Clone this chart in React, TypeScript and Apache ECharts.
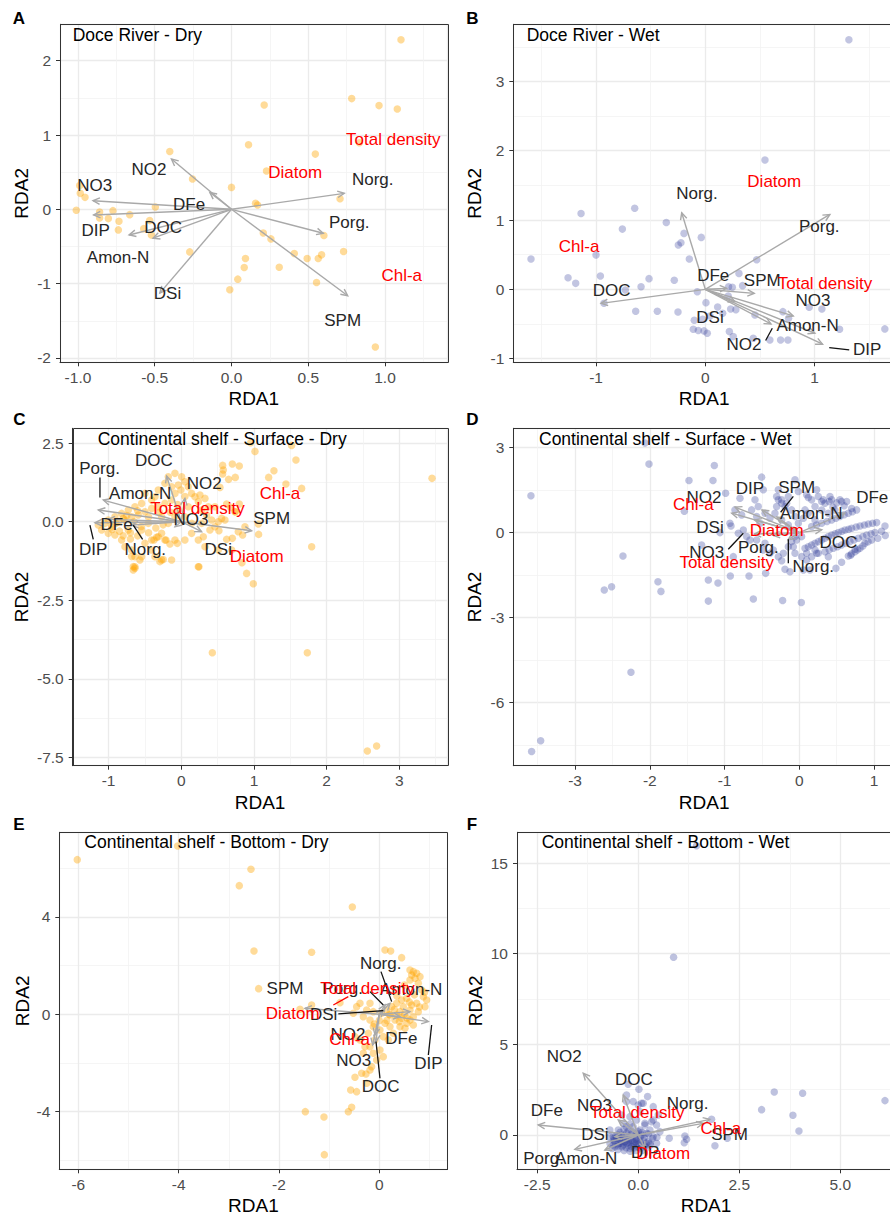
import React, { useEffect, useRef } from 'react';
import * as echarts from 'echarts';

type P = [number, number];
type Arrow = [string, number, number];
type Lab = [string, number, number, number];
type Seg = [number, number, number, number, number];

// ---------------- Panel A : Doce River - Dry ----------------
const A_POINTS: P[] = [
  [1.104, 2.282], [0.783, 1.49], [0.961, 1.396], [1.08, 1.351], [0.213, 1.405], [0.111, 0.868], [0.546, 0.743],
  [0.833, 0.895], [-0.402, 0.779], [-0.254, 0.407], [0.228, 0.515], [0.0, 0.295], [-0.989, 0.322], [-0.985, 0.215],
  [-0.954, 0.161], [-1.011, -0.013], [-0.496, 0.031], [-0.859, -0.036], [-0.772, -0.018], [-0.859, -0.116],
  [-0.802, -0.125], [-0.733, -0.161], [-0.663, -0.072], [-0.737, -0.277], [-0.572, -0.26], [-0.533, -0.152],
  [-0.522, -0.345], [-0.272, -0.573], [0.157, 0.081], [0.17, 0.058], [0.707, 0.143], [0.207, -0.318],
  [0.257, -0.398], [0.602, -0.353], [0.409, -0.595], [0.493, -0.662], [0.565, -0.662], [0.587, -0.613],
  [0.73, -0.568], [0.091, -0.662], [0.083, -0.783], [0.041, -0.94], [-0.011, -1.083], [0.311, -0.779],
  [0.554, -0.984], [0.937, -1.852],
];
const A_ARROWS: Arrow[] = [
  ['NO2', -0.391, 0.676], ['NO3', -0.902, 0.116], ['DIP', -0.898, -0.076], ['DFe', -0.141, 0.228],
  ['DOC', -0.511, -0.389], ['Amon-N', -0.667, -0.345], ['DSi', -0.467, -1.128], ['Norg.', 0.735, 0.215],
  ['Porg.', 0.598, -0.322], ['SPM', 0.757, -1.163],
];
const A_LABELS: Lab[] = [
  ['NO2', -0.537, 0.537, 0], ['NO3', -0.891, 0.322, 0], ['DFe', -0.276, 0.067, 0], ['DIP', -0.885, -0.286, 0],
  ['DOC', -0.446, -0.246, 0], ['Amon-N', -0.739, -0.644, 0], ['DSi', -0.417, -1.128, 0], ['Norg.', 0.92, 0.403, 0],
  ['Porg.', 0.767, -0.179, 0], ['SPM', 0.724, -1.499, 0],
  ['Total density', 1.054, 0.94, 1], ['Diatom', 0.415, 0.497, 1], ['Chl-a', 1.109, -0.886, 1],
];
const A_SEGMENTS: Seg[] = [];

// ---------------- Panel B : Doce River - Wet ----------------
const B_POINTS: P[] = [
  [1.314, 3.6], [0.546, 1.867], [-1.137, 1.095], [-0.646, 1.171], [-0.759, 0.869], [-0.357, 0.965], [-0.195, 0.807],
  [-0.223, 0.672], [-0.247, 0.639], [-0.037, 0.749], [-0.146, 0.437], [0.47, 0.427], [-1.595, 0.437], [-1.0, 0.494],
  [-0.96, 0.192], [-1.256, 0.168], [-1.186, 0.086], [-0.732, -0.01], [-0.588, 0.038], [-0.515, 0.154], [-0.284, 0.13],
  [-0.073, -0.034], [0.308, 0.23], [0.213, 0.038], [0.247, 0.029], [0.341, 0.053], [-0.927, -0.202], [-0.637, -0.317],
  [-0.439, -0.317], [-0.25, -0.326], [0.006, -0.192], [0.113, -0.254], [0.159, -0.346], [0.232, -0.283], [0.28, -0.293],
  [0.21, -0.096], [-0.101, -0.446], [-0.024, -0.432], [0.043, -0.384], [-0.11, -0.576], [-0.064, -0.595], [-0.012, -0.6],
  [0.018, -0.634], [0.22, -0.61], [0.256, -0.682], [0.439, -0.706], [0.591, -0.73], [0.689, -0.73], [0.756, -0.73],
  [0.71, -0.322], [0.762, -0.418], [0.454, -0.37], [0.951, -0.259], [1.067, -0.283], [1.229, -0.576], [1.643, -0.571],
];
const B_ARROWS: Arrow[] = [
  ['Norg.', -0.216, 1.104], ['Porg.', 1.14, 1.08], ['DOC', -0.954, -0.202], ['DFe', 0.195, 0.014],
  ['SPM', 0.448, -0.058], ['DSi', 0.271, -0.178], ['NO2', 0.601, -0.499], ['NO3', 0.805, -0.384],
  ['Amon-N', 1.003, -0.634], ['DIP', 1.073, -0.792],
];
const B_LABELS: Lab[] = [
  ['Norg.', -0.076, 1.383, 0], ['Porg.', 1.043, 0.903, 0], ['DFe', 0.073, 0.202, 0], ['SPM', 0.521, 0.134, 0],
  ['DOC', -0.857, -0.019, 0], ['NO3', 0.985, -0.163, 0], ['DSi', 0.043, -0.403, 0], ['Amon-N', 0.936, -0.523, 0],
  ['NO2', 0.354, -0.802, 0], ['DIP', 1.482, -0.874, 0],
  ['Diatom', 0.631, 1.551, 1], ['Chl-a', -1.155, 0.615, 1], ['Total density', 1.095, 0.086, 1],
];
const B_SEGMENTS: Seg[] = [
  [0.552, -0.739, 0.613, -0.562, 0], [1.134, -0.84, 1.317, -0.874, 0],
];

// ---------------- Panel C : Continental shelf - Surface - Dry ----------------
const C_POINTS: P[] = [
  [0.954, 2.513], [1.014, 2.237], [1.518, 2.428], [1.578, 1.962], [1.275, 1.622], [1.202, 1.41], [1.44, 1.198],
  [1.656, 1.06], [3.45, 1.379], [1.794, -0.795], [0.991, -1.972], [0.899, -1.644], [0.835, -1.304], [0.844, -0.424],
  [1.064, -0.403], [1.06, -0.074], [0.427, -4.168], [1.734, -4.168], [2.56, -7.296], [2.688, -7.137], [0.243, -1.432],
  [0.569, 1.792], [0.578, 1.644], [0.569, 1.516], [0.702, 1.835], [0.798, 1.771], [0.743, 1.41], [0.651, 1.347],
  [0.532, 1.092], [0.679, 0.456], [0.798, 0.562], [0.743, 0.318], [0.624, 0.562], [0.509, 0.0], [0.303, -0.477],
  [0.624, -0.562], [0.702, -0.53], [-0.133, -1.22], [-0.248, -1.2], [-0.294, -1.27], [-0.661, -1.43], [-0.638, -1.48],
  [-0.569, -1.22], [-0.683, -1.11], [-0.055, -0.689], [-0.211, -0.583], [-0.156, -0.71], [-0.339, -0.498],
  [-0.376, -0.583],
  [0.005, 1.432], [0.05, 1.273], [-0.041, 1.166], [0.096, 1.113], [-0.005, 1.007], [0.142, 0.901], [0.188, 0.795],
  [0.257, 0.848], [0.326, 0.742], [0.234, 0.636], [0.372, 0.477], [0.28, 0.371], [0.349, 0.212], [0.463, 0.477],
  [0.555, 0.106], [0.463, -0.159], [0.394, -0.265], [0.518, -0.286], [0.784, -0.318], [0.693, -0.901], [0.509, -0.901],
  [0.326, -0.795], [0.234, -0.583], [0.142, -0.371], [0.05, -0.583], [-0.087, -0.583], [-0.225, -0.583],
  [-0.317, -0.477], [-0.408, -0.583], [-0.5, -0.689], [-0.408, -0.901], [-0.362, -1.113], [-0.271, -1.22],
  [-0.546, -1.113], [-0.638, -1.113], [-0.683, -0.901], [-0.775, -0.795], [-0.821, -0.583], [-0.913, -0.424],
  [-1.005, -0.371], [-1.096, -0.265], [-1.142, -0.106], [-1.05, -0.053], [-0.959, -0.159], [-0.867, 0],
  [-0.775, 0.053], [-0.683, 0.159], [-0.592, 0.212], [-0.5, 0.318], [-0.408, 0.424], [-0.317, 0.477],
  [-0.225, 0.583], [-0.133, 0.689], [-0.087, 0.901], [-0.133, 1.113], [-0.225, 1.22], [-0.317, 1.007],
  [-0.362, 0.795], [-0.546, 0.583], [-0.638, 0.477], [-0.729, 0.371], [-0.821, 0.265], [-0.913, 0.159],
  [-1.005, 0.053], [-0.638, -1.432], [-0.661, -1.538], [0.234, -1.432], [-0.271, -0.371], [-0.179, -0.053],
  [-0.087, 0.159], [-0.271, 0.159], [-0.454, -0.053], [-0.546, -0.265], [-0.729, -0.265], [0.05, 0.159],
  [0.096, 0.477], [-0.041, 0.371], [0.142, -0.053], [0.28, -0.053], [0.417, 0.053], [0.601, 0.053], [0.739, 0.318],
  [0.876, -0.159], [-0.408, 0.689], [-0.5, 0.901], [-0.179, 1.432], [-0.087, 1.538],
  [-0.95, -0.25], [-0.85, -0.3], [-0.8, -0.45], [-0.7, -0.35], [-0.6, -0.45], [-0.9, -0.05], [-0.8, 0.1],
  [-0.65, 0.0], [-0.55, -0.15], [-0.45, -0.35], [-0.35, -0.2], [-0.25, -0.1], [-0.15, 0.3], [-0.05, 0.55],
  [0.05, 0.8], [-0.3, 0.3], [-0.45, 0.15], [-0.6, 0.35], [-0.75, 0.2], [-0.7, -0.55],
];
const C_ARROWS: Arrow[] = [
  ['DOC', -0.202, 1.453], ['NO2', 0.05, 0.742], ['Amon-N', -1.073, 0.689], ['Porg.', -1.142, 0.371],
  ['DFe', -1.005, 0.074], ['DIP', -1.188, -0.032], ['Norg.', -0.683, -0.106], ['NO3', -0.087, -0.159],
  ['DSi', 0.28, -0.318], ['SPM', 0.968, -0.286],
];
const C_LABELS: Lab[] = [
  ['DOC', -0.376, 1.962, 0], ['Porg.', -1.124, 1.68, 0], ['Amon-N', -0.565, 0.9, 0], ['NO2', 0.315, 1.23, 0],
  ['NO3', 0.133, 0.085, 0], ['DFe', -0.89, -0.085, 0], ['DIP', -1.211, -0.89, 0], ['Norg.', -0.495, -0.89, 0],
  ['DSi', 0.509, -0.875, 0], ['SPM', 1.243, 0.11, 0],
  ['Total density', 0.222, 0.424, 1], ['Chl-a', 1.358, 0.885, 1], ['Diatom', 1.037, -1.092, 1],
];
const C_SEGMENTS: Seg[] = [
  [-1.119, 1.41, -1.119, 0.774, 0], [-1.257, -0.106, -1.211, -0.562, 0], [-0.661, -0.106, -0.532, -0.562, 0],
];

// ---------------- Panel D : Continental shelf - Surface - Wet ----------------
const D_POINTS: P[] = [
  [-3.59, 1.3], [-2.065, 3.165], [-2.011, 2.421], [-2.359, -0.827], [-2.609, -2.031], [-2.511, -1.913],
  [-1.891, -1.736], [-1.851, -2.079], [-2.252, -4.937], [-3.46, -7.358], [-3.581, -7.736], [-1.476, 1.842],
  [-1.137, 2.374], [-1.155, 1.842], [-0.986, 1.394], [-1.538, 0.756], [-1.307, -0.437], [-1.061, 0], [-0.914, 0.236],
  [-1.217, -1.677], [-1.088, -1.783], [-1.217, -2.421], [-0.923, -1.535], [-0.673, -1.535], [-0.45, -1.441],
  [-0.615, -2.35], [-0.223, -2.398], [0.027, -2.468], [-0.504, 1.961], [-0.058, 1.866], [0.12, 1.24],
  [-0.236, -0.992], [-0.192, -1.299], [0.143, -1.323], [0.49, -1.264], [0.566, -1.051], [0.687, -0.803],
  [0.745, -0.591], [1.146, 0.236],
  [-0.482, 1.512], [-0.281, 1.157], [-0.236, 1.039], [-0.303, 0.921], [-0.169, 1.039], [-0.013, 1.453],
  [0.098, 1.335], [0.232, 1.512], [0.41, 1.276], [0.566, 1.098], [-0.794, 1.217], [-0.593, 1.157], [-0.526, 0.331],
  [-0.749, 0.094], [-0.571, 0.567], [-0.928, 0.331], [-0.66, -0.26], [-0.883, -0.85], [-0.482, -0.614],
  [-0.392, -0.732], [-0.214, -0.732], [-0.08, -0.496], [-0.036, -0.26], [0.031, -0.142], [0.098, -0.968],
  [-0.125, -1.382], [0.054, -1.323], [0.232, -0.732],
  [0.165, 0.213], [0.299, 0.331], [0.433, 0.449], [0.544, 0.567], [0.656, 0.685], [0.767, 0.803],
  [0.343, 1.039], [0.433, 1.157], [0.321, 1.157], [0.544, 1.157], [0.633, 1.098],
  [0.076, -0.555], [0.165, -0.437], [0.254, -0.319], [0.343, -0.201], [0.433, -0.083], [0.522, 0], [0.611, 0.094],
  [0.7, 0.154], [0.812, 0.236], [0.923, 0.307], [1.035, 0.354],
  [0.343, -0.673], [0.455, -0.555], [0.566, -0.437], [0.678, -0.319], [0.789, -0.201], [0.901, -0.083], [1.012, 0],
  [0.656, -0.827], [0.745, -0.673], [0.812, -0.555], [0.878, -0.378], [0.968, -0.26],
  [-0.281, 1.512], [-0.303, 1.276], [-0.236, 1.157], [-0.147, 1.276], [-0.192, 0.921], [-0.103, 0.803],
  [-0.058, 0.567], [-0.013, 0.331], [0.054, 0.508], [0.12, 0.685], [0.21, 0.921], [0.299, 1.098], [0.165, 1.157],
  [0.254, 1.276],
  [-0.861, 0.803], [-0.771, 0.626], [-0.638, 0.803], [-0.549, 0.921], [-0.459, 0.685], [-0.392, 0.508],
  [-0.326, 0.685], [-0.236, 0.449], [-0.147, 0.272], [-0.08, 0.094], [-0.058, -0.142], [-0.103, -0.319],
  [-0.147, -0.496], [-0.058, -0.732], [0.031, -0.85], [0.098, -0.732], [-0.816, -0.024], [-0.705, -0.142],
  [-0.571, -0.26], [-0.459, -0.378], [-0.348, -0.614], [-0.281, -0.85],
  [0.165, -0.85], [0.254, -0.732], [0.21, -0.614], [0.388, -0.85], [0.388, 0.685], [0.477, 0.803], [0.21, 0.449],
  [0.076, 0.803],
  [0.23, 0.27], [0.37, 0.39], [0.49, 0.51], [0.6, 0.63], [0.71, 0.74],
  [0.12, -0.5], [0.21, -0.38], [0.3, -0.26], [0.39, -0.14], [0.48, -0.04], [0.57, 0.05], [0.66, 0.12], [0.76, 0.2],
  [0.87, 0.27], [0.98, 0.33],
  [0.4, -0.61], [0.51, -0.5], [0.62, -0.38], [0.73, -0.26], [0.85, -0.14], [0.96, -0.04], [1.1, 0.05],
  [0.7, -0.75], [0.78, -0.61], [0.85, -0.47], [0.92, -0.32], [1.05, -0.2], [1.15, -0.1],
  [0.4, 1.1], [0.5, 1.05], [0.6, 0.95], [0.7, 0.85], [0.45, 0.9], [0.3, 0.8],
];
const D_ARROWS: Arrow[] = [
  ['NO2', -0.905, 0.69], ['DIP', -0.86, 0.9], ['DSi', -0.6, 0.45], ['SPM', -0.5, 0.8], ['Amon-N', -0.3, 0.55],
  ['NO3', -0.6, -0.05], ['Porg.', -0.35, -0.1], ['Norg.', -0.15, -0.25], ['DOC', 0.3, 0.1], ['DFe', 0.61, 0.69],
];
const D_LABELS: Lab[] = [
  ['NO2', -1.275, 1.252, 0], ['DIP', -0.66, 1.571, 0], ['SPM', -0.036, 1.606, 0], ['Amon-N', 0.16, 0.68, 0],
  ['DFe', 0.975, 1.235, 0], ['DSi', -1.195, 0.189, 0], ['Porg.', -0.548, -0.52, 0], ['NO3', -1.24, -0.709, 0],
  ['DOC', 0.522, -0.343, 0], ['Norg.', 0.187, -1.205, 0],
  ['Chl-a', -1.418, 1.01, 1], ['Diatom', -0.303, 0.071, 1], ['Total density', -0.972, -1.051, 1],
];
const D_SEGMENTS: Seg[] = [
  [-0.08, 1.28, -0.25, 0.72, 0], [-0.95, -0.59, -0.749, -0.024, 0], [-0.147, -0.236, -0.147, -1.087, 0],
];

// ---------------- Panel E : Continental shelf - Bottom - Dry ----------------
const E_POINTS: P[] = [
  [-6.02, 6.356], [-4.02, 6.918], [-2.558, 5.959], [-2.791, 5.288], [-0.538, 4.411], [-2.498, 2.603],
  [-1.349, 2.548], [-2.405, 1.055], [-1.349, 0.384], [-1.581, 0.205], [-0.784, 0.479], [-1.475, -4.0],
  [-1.103, -4.219], [-1.096, -5.767], [-0.618, -4.0], [-0.551, -3.822], [-0.571, -3.11], [-0.452, -3.178],
  [-0.485, -2.589], [-0.266, -2.452], [-0.186, -2.288], [0.113, 2.644], [0.226, 2.603], [0.445, 2.329],
  [0.611, 1.822], [0.678, 1.753], [0.744, 1.685], [0.811, 1.548], [0.777, 1.274], [0.711, 1.479], [0.645, 1.616],
  [0.611, 1.411], [0.844, 1.0], [0.877, 0.726], [0.944, 0.589], [0.91, 0.315], [0.744, 0.452], [0.645, 0.384],
  [0.611, 0.178], [0.777, 0.11], [0.678, -0.096],
  [-0.186, 0.452], [-0.12, 0.11], [0.047, 0.041], [0.146, 0.178], [0.246, 0.315], [0.346, 0.452], [0.445, 0.589],
  [0.545, 0.658], [0.478, 0.315], [0.412, 0.11], [0.312, -0.233], [0.213, -0.507], [0.113, -0.37], [0.013, -0.644],
  [0.08, -0.918], [0.179, -1.055], [0.279, -0.781], [0.412, -0.507], [0.545, -0.37], [-0.186, -0.233],
  [-0.319, -0.096], [-0.252, 0.178], [-0.385, 0.452], [-0.452, 0.315], [-0.518, 0.041], [-0.12, -0.507],
  [-0.219, -0.781], [-0.186, -1.329], [-0.12, -1.603], [-0.053, -1.877], [-0.153, -2.151], [-0.252, -2.836],
  [-0.352, -2.425], [0.611, -0.233], [0.678, -0.438], [0.512, -0.575], [0.346, -0.027], [0.213, -0.027],
  [0.445, -0.164], [0.013, -1.466], [0.08, -1.74], [-0.086, -1.055], [-0.286, -1.329], [-0.319, -1.603],
  [-0.385, -1.055], [-0.485, -0.918],
  [0.3, 0.2], [0.5, 0.0], [0.6, 0.5], [0.7, 0.8], [0.5, 1.2], [0.35, 0.75], [0.2, 0.0], [0.4, -0.3],
  [0.15, -0.25], [0.55, -0.15], [0.8, 0.3], [0.9, 0.9], [0.0, -0.25], [-0.1, -0.4],
];
const E_ARROWS: Arrow[] = [
  ['SPM', -1.482, 0.247], ['DSi', 0.08, 0.178], ['Porg.', 0.113, 0.384], ['Norg.', 0.213, 0.452],
  ['Amon-N', 0.611, 0.11], ['DFe', 0.412, -0.096], ['DIP', 0.977, -0.301], ['DOC', -0.066, -1.123],
  ['NO2', -0.086, -0.849], ['NO3', -0.133, -1.26],
];
const E_LABELS: Lab[] = [
  ['Norg.', 0.027, 2.096, 0], ['SPM', -1.88, 1.055, 0], ['Porg.', -0.731, 1.041, 0], ['Amon-N', 0.636, 1.027, 0],
  ['DSi', -1.11, -0.027, 0], ['NO2', -0.625, -0.849, 0], ['DFe', 0.439, -1.0, 0], ['NO3', -0.51, -1.918, 0],
  ['DIP', 0.977, -2.041, 0], ['DOC', 0.027, -2.973, 0],
  ['Total density', -0.236, 1.068, 1], ['Diatom', -1.728, 0.014, 1], ['Chl-a', -0.591, -1.055, 1],
];
const E_SEGMENTS: Seg[] = [
  [0.033, 1.753, 0.246, 0.521, 0], [-0.817, 0.014, 0.08, 0.151, 0], [1.043, -0.438, 0.977, -1.671, 0],
  [-0.066, -1.123, 0.013, -2.63, 0], [-0.186, 0.932, 0.08, 0.384, 0], [-0.917, 0.384, -0.618, 0.726, 1],
];

// ---------------- Panel F : Continental shelf - Bottom - Wet ----------------
const F_POINTS: P[] = [
  [1.444, 15.958], [0.875, 9.81], [3.366, 2.374], [4.068, 2.301], [3.053, 1.399], [3.828, 1.086], [3.977, 0.221],
  [6.106, 1.896], [1.898, -0.589], [2.203, -0.184], [1.815, 0.865], [1.155, -0.055], [1.139, -0.423],
  [1.197, -0.239], [0.767, -0.184], [0.462, -0.129], [-0.248, 2.798], [0.017, 2.522], [0.231, 2.117],
  [0.083, 1.749], [0.0, 1.657], [-0.289, 1.841], [0.165, 0.644], [0.371, 0.828],
  [0.124, 1.749], [0.041, 1.288], [-0.124, 1.841], [-0.289, 2.209], [-0.206, 1.012], [-0.413, 1.104],
  [0.371, 1.564], [0.495, 1.104], [0.33, 0.736], [0.454, 0.552], [0.536, 0.184], [0.454, -0.46], [0.289, -0.46],
  [-0.454, -0.276], [-0.619, -0.092], [-0.701, -0.46], [-0.578, -0.644], [-0.371, -0.552], [-0.206, -0.368],
  [-0.041, -0.46], [0.124, -0.276], [-0.289, 0.092], [-0.495, 0.276], [0.041, 0.276], [0.206, 0.092],
  [-0.124, 0.46], [-0.371, 0.644], [-0.041, 0.828], [0.165, 0.552], [-0.701, 0.276], [-0.248, -0.552],
  [-0.083, -0.092], [0.083, 0], [-0.413, 0], [-0.578, -0.368], [-0.165, -0.644], [0, -0.681], [0.165, -0.607],
  [-0.495, -0.607], [-0.33, -0.368], [-0.454, -0.092], [-0.206, -0.184], [-0.041, -0.276], [-0.289, -0.46],
  [-0.124, -0.552], [0.041, -0.368], [-0.371, -0.184], [-0.536, -0.184], [-0.165, 0.184], [0, 0.184],
  [-0.619, -0.552], [-0.413, -0.46], [-0.248, -0.276], [-0.083, -0.368], [0.083, -0.552], [0.248, -0.368],
  [0.371, -0.092], [0.289, 0.276],
  [-0.6, -0.3], [-0.5, -0.5], [-0.4, -0.65], [-0.3, -0.7], [-0.2, -0.75], [-0.1, -0.7], [0.05, -0.75], [0.2, -0.7],
  [-0.55, -0.05], [-0.45, 0.15], [-0.35, 0.3], [-0.25, 0.2], [-0.15, 0.05], [-0.05, 0.1], [0.1, 0.15], [0.25, 0.05],
  [0.35, -0.2], [0.3, -0.55], [-0.65, -0.75], [-0.5, -0.8], [-0.35, -0.85], [-0.2, -0.9], [-0.05, -0.85],
  [0.1, -0.85], [-0.4, -0.35], [-0.3, -0.1], [-0.15, -0.3], [-0.05, -0.2], [0.05, -0.1], [0.15, -0.15],
  [-0.25, -0.4], [-0.1, -0.45], [0.0, -0.5], [0.2, -0.45], [-0.45, -0.45], [-0.6, -0.2], [-0.7, -0.1], [-0.5, 0.0],
  [-0.3, 0.45], [-0.2, 0.6],
];
const F_ARROWS: Arrow[] = [
  ['NO2', -1.361, 3.405], ['DFe', -2.475, 0.552], ['Amon-N', -1.568, -0.791], ['DOC', -0.371, 2.209],
  ['Norg.', 1.774, 0.865], ['SPM', 1.609, 0.644], ['NO3', -0.495, 0.828], ['DSi', -0.578, -0.092],
  ['Porg.', -0.825, -0.828], ['DIP', 0.165, -0.736],
];
const F_LABELS: Lab[] = [
  ['NO2', -1.83, 4.325, 0], ['DOC', -0.107, 3.074, 0], ['NO3', -1.081, 1.601, 0], ['Norg.', 1.221, 1.712, 0],
  ['DFe', -2.26, 1.344, 0], ['DSi', -1.073, 0, 0], ['SPM', 2.26, 0.037, 0], ['Porg.', -2.343, -1.288, 0],
  ['Amon-N', -1.287, -1.288, 0], ['DIP', 0.173, -0.957, 0],
  ['Total density', -0.025, 1.233, 1], ['Chl-a', 2.046, 0.368, 1], ['Diatom', 0.619, -1.012, 1],
];
const F_SEGMENTS: Seg[] = [];

// ---------------- Layout & style ----------------
const FONT = '"Liberation Sans", Arial, Helvetica, sans-serif';
const ORANGE = '#ffa500';
const BLUE = '#34409c';
const DARK = '#262626';
const RED = '#ff0000';
const ARROW = '#a9a9a9';

const PANELS = [
  { letter: 'A', title: 'Doce River - Dry', left: 60, top: 24.3, width: 387.5, height: 338,
    x: [-1.117, 1.407, 0.5, 1], y: [-2.059, 2.49, 1, 0], yGap: 29, color: ORANGE, alpha: 0.4,
    pts: A_POINTS, arr: A_ARROWS, lab: A_LABELS, seg: A_SEGMENTS, lx: 19, ly: 18.5, tx: 72.7, ty: 35 },
  { letter: 'B', title: 'Doce River - Wet', left: 513.3, top: 24.3, width: 381.7, height: 338,
    x: [-1.757, 1.736, 1, 0], y: [-1.053, 3.824, 1, 0], yGap: 29, color: BLUE, alpha: 0.3,
    pts: B_POINTS, arr: B_ARROWS, lab: B_LABELS, seg: B_SEGMENTS, lx: 472.5, ly: 18.5, tx: 526.7, ty: 35 },
  { letter: 'C', title: 'Continental shelf - Surface - Dry', left: 72.7, top: 428.3, width: 374.8, height: 337.4,
    x: [-1.494, 3.663, 1, 0], y: [-7.763, 2.972, 2.5, 1], yGap: 41.7, color: ORANGE, alpha: 0.4,
    pts: C_POINTS, arr: C_ARROWS, lab: C_LABELS, seg: C_SEGMENTS, lx: 19.5, ly: 419, tx: 97.7, ty: 438.5 },
  { letter: 'D', title: 'Continental shelf - Surface - Wet', left: 513.3, top: 428.3, width: 381.7, height: 337.4,
    x: [-3.826, 1.28, 1, 0], y: [-8.24, 3.687, 3, 0], yGap: 29, color: BLUE, alpha: 0.32,
    pts: D_POINTS, arr: D_ARROWS, lab: D_LABELS, seg: D_SEGMENTS, lx: 472.5, ly: 419, tx: 539, ty: 438.5 },
  { letter: 'E', title: 'Continental shelf - Bottom - Dry', left: 59.3, top: 832.3, width: 388.2, height: 337,
    x: [-6.378, 1.359, 2, 0], y: [-6.37, 7.48, 4, 0], yGap: 27.8, color: ORANGE, alpha: 0.4,
    pts: E_POINTS, arr: E_ARROWS, lab: E_LABELS, seg: E_SEGMENTS, lx: 19, ly: 824, tx: 84.3, ty: 841.7 },
  { letter: 'F', title: 'Continental shelf - Bottom - Wet', left: 517, top: 832.3, width: 378, height: 337,
    x: [-3.0, 6.354, 2.5, 1], y: [-1.893, 16.7, 5, 0], yGap: 32.5, color: BLUE, alpha: 0.32,
    pts: F_POINTS, arr: F_ARROWS, lab: F_LABELS, seg: F_SEGMENTS, lx: 472, ly: 824, tx: 541.7, ty: 841.7 },
];

const fmt = (v: number, dec: number) => (dec === 0 ? String(Math.round(v) || 0) : (Math.abs(v) < 1e-9 ? 0 : v).toFixed(dec));

function axisCommon(range: number[], name: string, gap: number, gridIndex: number, isX: boolean) {
  return {
    type: 'value',
    gridIndex,
    min: range[0],
    max: range[1],
    minInterval: range[2],
    maxInterval: range[2],
    splitNumber: 5,
    name,
    nameLocation: 'middle',
    nameGap: gap,
    nameTextStyle: { fontSize: 19, color: '#000', fontFamily: FONT },
    axisLine: { show: true, onZero: false, lineStyle: { color: '#333', width: 1 } },
    axisTick: { show: true, length: 4, lineStyle: { color: '#333', width: 1 } },
    axisLabel: {
      show: true, margin: isX ? 7 : 9, fontSize: 15.5, color: '#4d4d4d', fontFamily: FONT,
      showMinLabel: false, showMaxLabel: false,
      formatter: (v: number) => fmt(v, range[3]),
    },
    splitLine: { show: true, lineStyle: { color: '#ebebeb', width: 1.3 } },
    minorTick: { show: false, splitNumber: 2 },
    minorSplitLine: { show: true, lineStyle: { color: '#f2f2f2', width: 0.8 } },
  };
}

const arrowRender = (params: any, api: any) => {
  const p0 = api.coord([0, 0]);
  const p1 = api.coord([api.value(0), api.value(1)]);
  const ang = Math.atan2(p1[1] - p0[1], p1[0] - p0[0]);
  const L = 7.5;
  const A = Math.PI / 7;
  const h1 = [p1[0] - L * Math.cos(ang - A), p1[1] - L * Math.sin(ang - A)];
  const h2 = [p1[0] - L * Math.cos(ang + A), p1[1] - L * Math.sin(ang + A)];
  return {
    type: 'group',
    children: [
      { type: 'line', shape: { x1: p0[0], y1: p0[1], x2: p1[0], y2: p1[1] }, style: { stroke: ARROW, lineWidth: 1.4 } },
      { type: 'polyline', shape: { points: [h1, p1, h2] }, style: { stroke: ARROW, lineWidth: 1.4, fill: null } },
    ],
  };
};

const segRender = (list: Seg[]) => (params: any, api: any) => {
  const a = api.coord([api.value(0), api.value(1)]);
  const b = api.coord([api.value(2), api.value(3)]);
  return {
    type: 'line',
    shape: { x1: a[0], y1: a[1], x2: b[0], y2: b[1] },
    style: { stroke: list[params.dataIndex][4] ? RED : '#111', lineWidth: 1.3 },
  };
};

const labelRender = (list: Lab[]) => (params: any, api: any) => {
  const p = api.coord([api.value(0), api.value(1)]);
  const it = list[params.dataIndex];
  return {
    type: 'text',
    x: p[0],
    y: p[1],
    style: {
      text: it[0], fill: it[3] ? RED : DARK, fontSize: 17, fontFamily: FONT,
      align: 'center', verticalAlign: 'middle',
    },
  };
};

function buildOption() {
  const grid: any[] = [];
  const xAxis: any[] = [];
  const yAxis: any[] = [];
  const series: any[] = [];
  const elements: any[] = [];
  PANELS.forEach((p, i) => {
    grid.push({ left: p.left, top: p.top, width: p.width, height: p.height, show: false, containLabel: false, outerBoundsMode: 'none' });
    xAxis.push(axisCommon(p.x, 'RDA1', 27, i, true));
    yAxis.push(axisCommon(p.y, 'RDA2', p.yGap, i, false));
    series.push({
      type: 'scatter', xAxisIndex: i, yAxisIndex: i, data: p.pts, symbol: 'circle', symbolSize: 7.5,
      itemStyle: { color: p.color, opacity: p.alpha }, silent: true, z: 2, emphasis: { disabled: true },
    });
    series.push({
      type: 'custom', xAxisIndex: i, yAxisIndex: i, data: p.arr.map((a) => [a[1], a[2]]),
      encode: { x: 0, y: 1 }, renderItem: arrowRender, silent: true, z: 3,
    });
    if (p.seg.length) {
      series.push({
        type: 'custom', xAxisIndex: i, yAxisIndex: i, data: p.seg.map((s) => [s[0], s[1], s[2], s[3]]),
        encode: { x: [0, 2], y: [1, 3] }, renderItem: segRender(p.seg), silent: true, z: 4,
      });
    }
    series.push({
      type: 'custom', xAxisIndex: i, yAxisIndex: i, data: p.lab.map((l) => [l[1], l[2]]),
      encode: { x: 0, y: 1 }, renderItem: labelRender(p.lab), silent: true, z: 5,
    });
    elements.push({
      type: 'rect', silent: true, z: 100,
      shape: { x: Math.round(p.left) + 0.5, y: Math.round(p.top) + 0.5, width: Math.round(p.width), height: Math.round(p.height) },
      style: { fill: 'none', stroke: '#333', lineWidth: 1 },
    });
    elements.push({
      type: 'text', x: p.lx, y: p.ly, z: 100, silent: true,
      style: { text: p.letter, fontSize: 17, fontWeight: 'bold', fontFamily: FONT, fill: '#000', align: 'center', verticalAlign: 'middle' },
    });
    elements.push({
      type: 'text', x: p.tx, y: p.ty, z: 100, silent: true,
      style: { text: p.title, fontSize: 17.5, fontFamily: FONT, fill: '#000', align: 'left', verticalAlign: 'middle' },
    });
  });
  return {
    animation: false,
    backgroundColor: '#ffffff',
    grid,
    xAxis,
    yAxis,
    series,
    graphic: { elements },
  };
}

export default function App() {
  const ref = useRef<HTMLDivElement>(null);
  useEffect(() => {
    document.body.style.margin = '0';
    if (!ref.current) return;
    const chart = echarts.init(ref.current, null, { renderer: 'svg' });
    chart.setOption(buildOption() as any);
    return () => chart.dispose();
  }, []);
  return <div ref={ref} style={{ width: 890, height: 1216 }} />;
}
